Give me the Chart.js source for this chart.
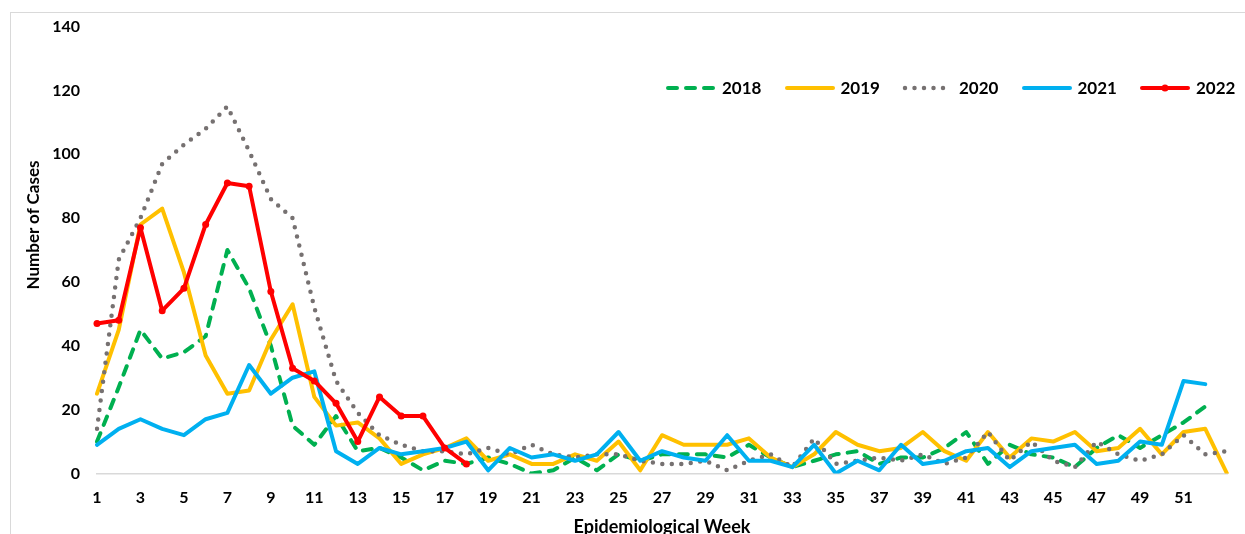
<!DOCTYPE html>
<html>
<head>
<meta charset="utf-8">
<script src="https://cdn.jsdelivr.net/npm/chart.js@4.4.0/dist/chart.umd.min.js"></script>
<style>
  html, body { margin: 0; padding: 0; background: #fff; overflow: hidden; }
  #wrap { position: relative; width: 1245px; height: 550px; }
  #frame { position: absolute; left: 10px; top: 12px; width: 1240px; height: 600px;
           border: 1px solid #d9d9d9; box-sizing: border-box; }
  #chart { position: absolute; left: 0; top: 0; }
  #legend { position: absolute; left: 665px; top: 78px; display: flex;
            font: bold 17px Lato, sans-serif; color: #000; line-height: 20px; }
  .item { display: flex; align-items: center; width: 118.5px; }
  .item svg { margin-right: 5px; }
  #ytitle { position: absolute; left: 33px; top: 225px; width: 200px; margin-left: -100px;
            text-align: center; font: bold 17px Lato, sans-serif; line-height: 20px;
            margin-top: -10px; color: #000; transform: rotate(-90deg); white-space: nowrap; }
</style>
</head>
<body>
<div id="wrap">
  <div id="frame"></div>
  <canvas id="chart" width="1245" height="550"></canvas>
  <div id="legend"></div>
  <div id="ytitle">Number of Cases</div>
</div>
<script>
// epidemiological weeks 1..53
const weeks = Array.from({length: 53}, (_, i) => String(i + 1));

const cases2018 = [10, 27, 45, 36, 38, 43, 70, 58, 40, 15, 9, 18, 7, 8, 5, 1, 4, 3, 5, 3,
  0, 1, 5, 1, 6, 4, 6, 6, 6, 5, 9, 5, 2, 4, 6, 7, 3, 5, 5, 8,
  13, 3, 9, 6, 5, 2, 8, 12, 8, 12, 16, 21, null];
const cases2019 = [25, 45, 78, 83, 63, 37, 25, 26, 42, 53, 24, 15, 16, 11, 3, 6, 8, 11, 4, 6,
  3, 3, 6, 4, 10, 1, 12, 9, 9, 9, 11, 5, 2, 6, 13, 9, 7, 8, 13, 7,
  4, 13, 5, 11, 10, 13, 7, 8, 14, 6, 13, 14, 0];
const cases2020 = [14, 67, 80, 97, 103, 108, 115, 101, 86, 80, 52, 29, 19, 12, 9, 7, 7, 6, 8, 6,
  9, 6, 5, 6, 6, 4, 3, 3, 4, 1, 4, 6, 2, 11, 3, 4, 5, 4, 6, 3,
  5, 13, 4, 10, 4, 2, 10, 6, 4, 6, 12, 6, 7];
const cases2021 = [9, 14, 17, 14, 12, 17, 19, 34, 25, 30, 32, 7, 3, 8, 6, 7, 8, 10, 1, 8,
  5, 6, 4, 6, 13, 4, 7, 5, 4, 12, 4, 4, 2, 9, 0, 4, 1, 9, 3, 4,
  7, 8, 2, 7, 8, 9, 3, 4, 10, 9, 29, 28, null];
const cases2022 = [47, 48, 77, 51, 58, 78, 91, 90, 57, 33, 29, 22, 10, 24, 18, 18, 8, 3];

const yTicks = [0, 20, 40, 60, 80, 100, 120, 140];

const series = [
  {label: '2018', data: cases2018, color: '#00B050', dash: [9, 9], width: 4, order: 5},
  {label: '2019', data: cases2019, color: '#FFC000', dash: [], width: 4, order: 4},
  {label: '2020', data: cases2020, color: '#767171', dash: [0, 9.5], width: 4.5, order: 3},
  {label: '2021', data: cases2021, color: '#00B0F0', dash: [], width: 4, order: 2},
  {label: '2022', data: cases2022, color: '#FF0000', dash: [], width: 4, order: 1, marker: true}
];

const datasets = series.map(s => ({
  label: s.label,
  data: s.data,
  borderColor: s.color,
  backgroundColor: s.color,
  borderWidth: s.width,
  borderDash: s.dash,
  borderCapStyle: 'round',
  borderJoinStyle: 'round',
  tension: 0,
  fill: false,
  spanGaps: false,
  order: s.order,
  pointRadius: s.marker ? 3.5 : 0,
  pointBorderWidth: 0,
  pointBackgroundColor: s.color
}));

const tickFont = {family: 'Lato', weight: 'bold', size: 16};

new Chart(document.getElementById('chart'), {
  type: 'line',
  data: {labels: weeks, datasets},
  options: {
    responsive: false,
    animation: false,
    devicePixelRatio: 1,
    layout: {padding: {top: 24, right: 18, left: 0, bottom: 0}},
    plugins: {legend: {display: false}, tooltip: {enabled: false}},
    scales: {
      x: {
        type: 'category',
        grid: {display: false, drawTicks: false},
        border: {display: true, color: '#d9d9d9', width: 1.5},
        ticks: {
          autoSkip: false, maxRotation: 0, padding: 15, color: '#000', font: tickFont,
          callback: (v, i) => (i % 2 === 0 && i < 52) ? weeks[i] : ''
        },
        title: {display: true, text: 'Epidemiological Week', color: '#000',
                font: {family: 'Lato', weight: 'bold', size: 18}, padding: {top: 0, bottom: 12}},
        afterFit: s => { s.height = 76.5; }
      },
      y: {
        min: 0, max: 140,
        grid: {display: false, drawTicks: false},
        border: {display: false},
        afterBuildTicks: s => { s.ticks = yTicks.map(v => ({value: v})); },
        ticks: {padding: 17, color: '#000', font: tickFont},
        afterFit: s => { s.width = 97; }
      }
    }
  }
});

// legend drawn as html, placed inside the plot like the original
const legend = document.getElementById('legend');
series.forEach(s => {
  const item = document.createElement('div');
  item.className = 'item';
  const dash = s.dash.length ? `stroke-dasharray="${s.dash.join(' ')}"` : '';
  const dot = s.marker ? `<circle cx="26" cy="6" r="3.5" fill="${s.color}"/>` : '';
  item.innerHTML = `<svg width="52" height="12"><line x1="3" y1="6" x2="49" y2="6" stroke="${s.color}"
    stroke-width="${s.width}" stroke-linecap="round" ${dash}/>${dot}</svg><span>${s.label}</span>`;
  legend.appendChild(item);
});
</script>
</body>
</html>
